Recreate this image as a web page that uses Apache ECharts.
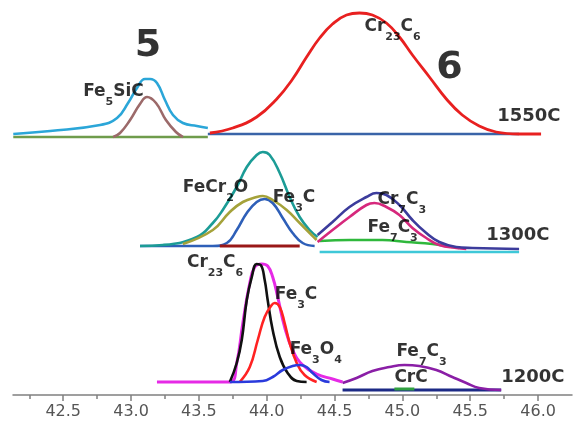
<!DOCTYPE html>
<html>
<head>
<meta charset="utf-8">
<script src="https://cdn.jsdelivr.net/npm/echarts@6/dist/echarts.min.js"></script>
<style>html,body{margin:0;padding:0;background:#fff}#c{width:577px;height:426px}</style>
</head>
<body>
<div id="c"></div>
<script>
// ---- axis ticks ----
const majorTicks = [42.5, 43.0, 43.5, 44.0, 44.5, 45.0, 45.5, 46.0];
const minorTicks = [42.25, 42.75, 43.25, 43.75, 44.25, 44.75, 45.25, 45.75];

// ---- vertical offsets of the three stacked patterns ----
const offset1550 = 258;
const offset1300 = 149;
const offset1200 = 13;

// ---- 1550C pattern: [2theta, intensity] ----
const env1550 = [[42.132,3],[42.404,6],[42.772,12],[42.897,19],[42.978,34],[43.044,49],[43.103,58],[43.140,58],[43.191,54],[43.250,37],[43.309,22],[43.382,14],[43.485,11],[43.566,9]];
const fe5sic1550 = [[42.868,0],[42.919,4],[42.993,17],[43.066,33],[43.118,40],[43.184,34],[43.257,17],[43.331,5],[43.382,0]];
const baseL1550 = [[42.132,0],[43.566,0]];
const baseR1550 = [[43.566,3],[45.86,3]];
const cr23c6_1550 = [[43.581,4],[43.75,9],[43.926,20],[44.074,38],[44.191,58],[44.294,80],[44.39,99],[44.485,113],[44.588,122],[44.684,124],[44.779,122],[44.882,114],[44.978,100],[45.074,82],[45.199,60],[45.324,38],[45.441,22],[45.566,11],[45.691,5],[45.86,3],[46.022,3]];

// ---- 1300C pattern ----
const env1300 = [[43.066,0],[43.235,1],[43.485,9],[43.603,23],[43.676,36],[43.779,59],[43.853,79],[43.926,91],[43.971,94],[44.022,91],[44.096,73],[44.169,49],[44.243,29],[44.316,16],[44.375,9]];
const fecr2o4_1300 = [[43.382,2],[43.603,16],[43.728,34],[43.824,44],[43.926,49],[43.971,50],[44.044,46],[44.147,36],[44.243,23],[44.331,11],[44.368,6]];
const fe3c1300 = [[43.066,0],[43.603,0],[43.706,3],[43.779,16],[43.853,33],[43.926,44],[43.985,47],[44.044,43],[44.118,28],[44.191,13],[44.265,3],[44.353,0]];
const darkBase1300 = [[43.654,0],[44.243,0]];
const cr7c3_1300 = [[44.375,11],[44.485,24],[44.61,39],[44.735,49],[44.809,53],[44.882,51],[44.978,41],[45.074,26],[45.176,13],[45.272,4],[45.397,-1],[45.515,-2],[45.86,-3]];
const fe7c3_1300 = [[44.375,4],[44.485,16],[44.61,29],[44.735,41],[44.794,43],[44.882,39],[44.978,31],[45.074,18],[45.176,8],[45.272,1],[45.397,-2],[45.471,-3]];
const green1300 = [[44.39,5],[44.61,6],[44.853,6],[45.029,4],[45.221,2],[45.368,-1],[45.419,-2]];
const cyanBase1300 = [[44.39,-6],[45.86,-6]];

// ---- 1200C pattern ----
const env1200 = [[43.191,0],[43.728,0],[43.779,19],[43.824,59],[43.875,99],[43.912,115],[43.963,118],[44.007,116],[44.044,105],[44.081,85],[44.132,55],[44.191,32],[44.265,17],[44.368,8],[44.485,3],[44.559,0]];
const cr23c6_1200 = [[43.728,0],[43.779,19],[43.816,42],[43.853,82],[43.890,105],[43.926,118],[43.956,117],[43.985,102],[44.007,82],[44.044,52],[44.096,25],[44.154,9],[44.221,1],[44.294,0]];
const fe3c1200 = [[43.801,0],[43.875,15],[43.934,42],[43.985,65],[44.037,77],[44.059,79],[44.096,75],[44.132,59],[44.169,39],[44.221,19],[44.279,7],[44.368,0]];
const fe3o4_1200 = [[43.728,0],[43.971,1],[44.044,5],[44.118,12],[44.191,16],[44.243,17],[44.294,15],[44.338,9],[44.404,2],[44.463,0]];
const fe7c3_1200 = [[44.559,-1],[44.662,4],[44.779,11],[44.904,15],[45.015,17],[45.125,16],[45.25,12],[45.368,5],[45.471,-1],[45.566,-6],[45.728,-8]];
const crcBase1200 = [[44.559,-8],[45.728,-8]];
const crc1200 = [[44.941,-7],[45.088,-7]];

// ---- annotations: [text, 2theta, level] ----
const phaseLabels = [
  ['Fe_5SiC', 42.647, 303], ['Cr_23C_6', 44.72, 368],
  ['FeCr_2O', 43.382, 207], ['Fe_3C', 44.044, 197], ['Cr_7C_3', 44.816, 195], ['Fe_7C_3', 44.743, 167],
  ['Cr_23C_6', 43.412, 132], ['Fe_3C', 44.059, 100], ['Fe_3O_4', 44.169, 45], ['Fe_7C_3', 44.956, 43], ['CrC', 44.941, 17]
];
const tempLabels = [['1550C', 45.699, 279], ['1300C', 45.618, 160], ['1200C', 45.728, 18]];
const peakNumbers = [['5', 43.125, 349], ['6', 45.346, 327]];

// ---- build ----
function shift(arr, off) { return arr.map(p => [p[0], p[1] + off]); }
function line(data, off, color, width, z) {
  return { type: 'line', data: shift(data, off), smooth: 0.45, symbol: 'none', silent: true,
           lineStyle: { color: color, width: width || 2.6 }, z: z || 2 };
}
const FONT = 'DejaVu Sans';
function toRich(s) { return '{n|' + s.replace(/_(\d+)/g, '}{s|$1}{n|') + '}'; }

const series = [
  line(baseL1550, offset1550, '#6f9c4c', 2.6),
  line(fe5sic1550, offset1550, '#9c6a6a'),
  line(env1550, offset1550, '#2ba6d8'),
  line(baseR1550, offset1550, '#3a64a8', 2.6),
  line(cr23c6_1550, offset1550, '#e82020', 2.8, 3),

  line(fe3c1300, offset1300, '#2e5fb8'),
  line(darkBase1300, offset1300, '#991818', 2.8),
  line(env1300, offset1300, '#1c9c96'),
  line(fecr2o4_1300, offset1300, '#a5a23a'),
  line(cyanBase1300, offset1300, '#3ec8d8'),
  line(green1300, offset1300, '#2fb83c'),
  line(fe7c3_1300, offset1300, '#d6287c'),
  line(cr7c3_1300, offset1300, '#3c3c9c'),

  line(env1200, offset1200, '#e62ae6', 3),
  line(cr23c6_1200, offset1200, '#111111'),
  line(fe3c1200, offset1200, '#ff2222'),
  line(fe3o4_1200, offset1200, '#2a3adc'),
  line(crcBase1200, offset1200, '#1c2a86', 3),
  line(crc1200, offset1200, '#30a040', 3),
  line(fe7c3_1200, offset1200, '#8a1ea6'),

  { type: 'scatter', symbolSize: 0, silent: true, z: 10,
    data: phaseLabels.map(l => ({ name: l[0], value: [l[1], l[2]] })),
    label: { show: true, position: 'right', distance: 0, textBorderWidth: 0,
      formatter: p => toRich(p.name),
      rich: {
        n: { fontFamily: FONT, fontWeight: 'bold', fontSize: 17, color: '#000', textBorderWidth: 0 },
        s: { fontFamily: FONT, fontWeight: 'bold', fontSize: 11, color: '#000', textBorderWidth: 0, padding: [20, 0, 0, 0] }
      } } },
  { type: 'scatter', symbolSize: 0, silent: true, z: 10,
    data: tempLabels.map(l => ({ name: l[0], value: [l[1], l[2]] })),
    label: { show: true, position: 'right', distance: 0, formatter: p => p.name, textBorderWidth: 0,
      fontFamily: FONT, fontWeight: 'bold', fontSize: 18, color: '#000' } },
  { type: 'scatter', symbolSize: 0, silent: true, z: 10,
    data: peakNumbers.map(l => ({ name: l[0], value: [l[1], l[2]] })),
    label: { show: true, position: 'inside', formatter: p => p.name, textBorderWidth: 0,
      fontFamily: FONT, fontWeight: 'bold', fontSize: 38, color: '#000' } }
];

const chart = echarts.init(document.getElementById('c'), null, { renderer: 'canvas' });
chart.setOption({
  animation: false,
  backgroundColor: '#fff',
  grid: { left: 13, right: 5, top: 0, bottom: 31 },
  xAxis: [
    { type: 'value', min: 42.13, max: 46.25, position: 'bottom',
      axisLine: { show: true, onZero: false, lineStyle: { color: '#808080', width: 1.5 } },
      axisTick: { show: true, customValues: majorTicks, length: 6, lineStyle: { color: '#808080', width: 1.5 } },
      axisLabel: { show: true, customValues: majorTicks, margin: 9, color: '#555', fontSize: 16, fontFamily: FONT,
                   formatter: v => Number(v).toFixed(1) },
      splitLine: { show: false } },
    { type: 'value', min: 42.13, max: 46.25, position: 'bottom', gridIndex: 0,
      axisLine: { show: false },
      axisTick: { show: true, customValues: minorTicks, length: 4, lineStyle: { color: '#808080', width: 1.5 } },
      axisLabel: { show: false }, splitLine: { show: false } }
  ],
  yAxis: { type: 'value', min: 0, max: 395, show: false, splitLine: { show: false } },
  series: series
});
</script>
</body>
</html>
